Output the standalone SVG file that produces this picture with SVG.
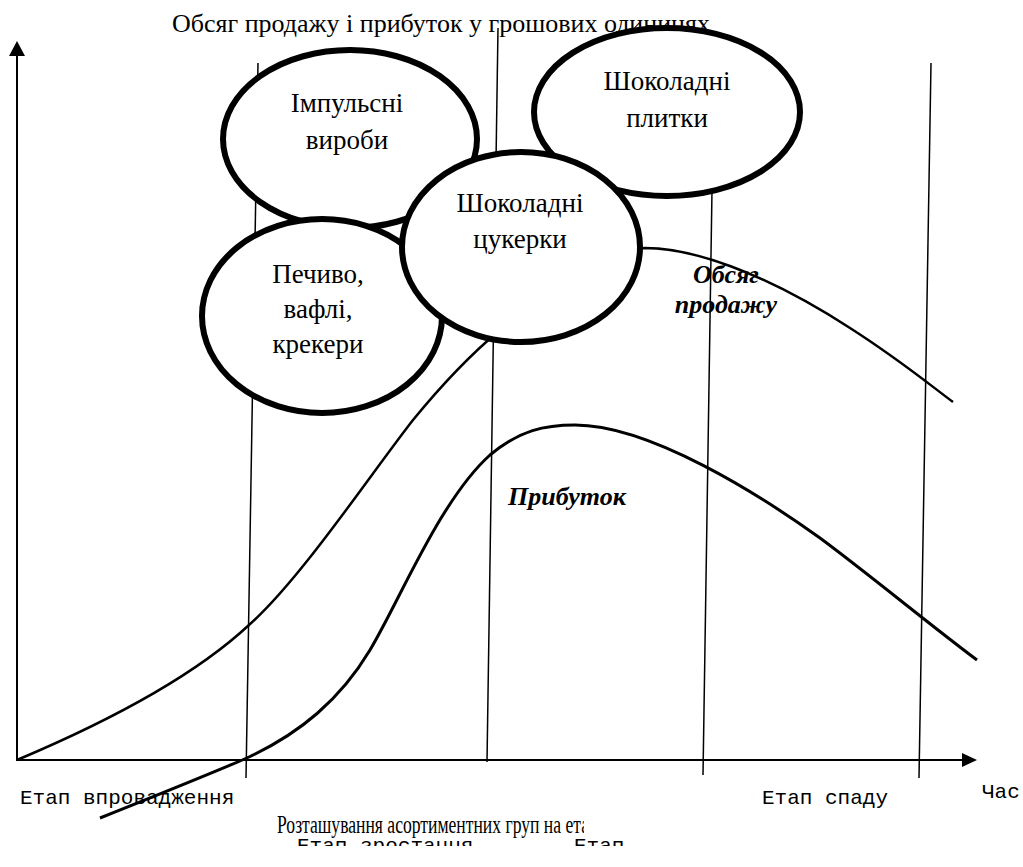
<svg xmlns="http://www.w3.org/2000/svg" width="1023" height="867" viewBox="0 0 1023 867">
<style>
.ax{stroke:#000;stroke-width:2;fill:none}
.vl{stroke:#000;stroke-width:1.5;fill:none}
.cv{stroke:#000;stroke-width:2.5;fill:none}
.pf{stroke:#000;stroke-width:3;fill:none}
.el{fill:#fff;stroke:#000;stroke-width:6}
.et{font-family:"Liberation Serif",serif;font-size:27px;text-anchor:middle;fill:#000}
.lb{font-family:"Liberation Serif",serif;font-size:26px;font-weight:bold;font-style:italic;fill:#000}
.mn{font-family:"Liberation Mono",monospace;font-size:21px;fill:#000}
.tt{font-family:"Liberation Serif",serif;font-size:26px;fill:#000}
</style>
<defs>
<clipPath id="clipB"><rect x="0" y="0" width="584" height="867"/></clipPath>
<clipPath id="clipC"><rect x="0" y="0" width="1023" height="846"/></clipPath>
</defs>
<rect width="1023" height="867" fill="#fff"/>
<g id="axes">
<line class="ax" x1="17" y1="761" x2="17" y2="54"/>
<polygon points="17,41 9,56 25,56" fill="#000"/>
<line class="ax" x1="16" y1="760" x2="964" y2="760"/>
<polygon points="977,760 962,753 962,767" fill="#000"/>
</g>
<g id="connectors">
<line class="vl" x1="258" y1="63" x2="246" y2="778"/>
<line class="vl" x1="498" y1="28" x2="487" y2="762"/>
<line class="vl" x1="714" y1="60" x2="703" y2="775"/>
<line class="vl" x1="931" y1="63" x2="919" y2="778"/>
<path class="cv" d="M17,760 C100,725 190,680 249,625 C300,580 370,475 413,420 C440,387 470,355 500,330 C540,290 600,250 645,248 C690,248 760,270 850,328 C900,360 930,385 953,402"/>
<path class="pf" d="M100,818 C170,790 220,770 249,757 C300,733 340,700 370,650 C400,600 440,500 490,455 C520,430 545,425 575,425 C650,425 760,495 820,538 C870,575 930,625 977,660"/>
</g>
<text class="tt" x="172" y="32">Обсяг продажу і прибуток у грошових одиницях</text>
<g id="node-impulse">
<ellipse class="el" cx="350" cy="139" rx="127" ry="89"/>
<text class="et" x="347" y="112">Імпульсні</text>
<text class="et" x="347" y="149">вироби</text>
</g>
<g id="node-tiles">
<ellipse class="el" cx="667" cy="112" rx="133" ry="84"/>
<text class="et" x="667" y="90">Шоколадні</text>
<text class="et" x="667" y="127">плитки</text>
</g>
<g id="node-biscuits">
<ellipse class="el" cx="322" cy="316" rx="120" ry="97"/>
<text class="et" x="318" y="283">Печиво,</text>
<text class="et" x="318" y="318">вафлі,</text>
<text class="et" x="318" y="353">крекери</text>
</g>
<g id="node-candies">
<ellipse class="el" cx="521" cy="247" rx="119" ry="95"/>
<text class="et" x="520" y="212">Шоколадні</text>
<text class="et" x="520" y="248">цукерки</text>
</g>
<g id="labels">
<text class="lb" x="726" y="283" text-anchor="middle">Обсяг</text>
<text class="lb" x="726" y="313" text-anchor="middle">продажу</text>
<text class="lb" x="508" y="505">Прибуток</text>
<text class="mn" x="982" y="798">Час</text>
<text class="mn" x="20" y="804">Етап впровадження</text>
<text class="mn" x="762" y="804">Етап спаду</text>
<g clip-path="url(#clipC)">
<text class="mn" x="297" y="852">Етап зростання</text>
<text class="mn" x="574" y="852">Етап</text>
</g>
<text class="tt" x="277" y="833" font-size="24" textLength="312" lengthAdjust="spacingAndGlyphs" clip-path="url(#clipB)">Розташування асортиментних груп на ета</text>
</g>
</svg>
